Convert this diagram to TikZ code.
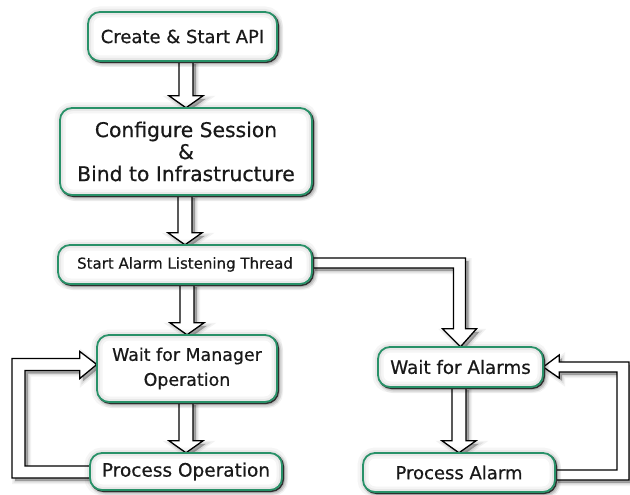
\documentclass[tikz,border=0pt]{standalone}
\usepackage{fontspec}
\setmainfont{DejaVu Sans}
\newfontfamily\boxfont{DejaVu Sans}[FakeBold=0.6]
\usetikzlibrary{calc}
\definecolor{boxgreen}{RGB}{40,145,104}
\definecolor{inktext}{RGB}{25,25,25}
\pgfdeclarelayer{paper}
\pgfdeclarelayer{back}
\pgfsetlayers{paper,back,main}

\tikzset{
  % soft grey shadow cast down and to the right
  softshadow/.style={
    preaction={draw=black, draw opacity=0.05, line width=6pt,
      transform canvas={xshift=3pt,yshift=-3pt}},
    preaction={draw=black, draw opacity=0.08, line width=3pt,
      transform canvas={xshift=3pt,yshift=-3pt}},
    preaction={fill=black, fill opacity=#1,
      transform canvas={xshift=3pt,yshift=-3pt}}},
  softshadow/.default=0.15,
  flowbox/.style={rectangle, rounded corners=12pt, fill=white, text=inktext,
    align=center, inner sep=0pt, softshadow=0.12,
    preaction={draw=black!80, line width=1.6pt,
      transform canvas={xshift=1.2pt,yshift=-1.2pt}},
    postaction={draw=black, draw opacity=0.04, line width=11pt},
    postaction={draw=black, draw opacity=0.05, line width=6pt},
    postaction={draw=boxgreen, line width=1.8pt}},
  fatarrow/.style={draw=black, line width=1.3pt, fill=white, line join=miter,
    softshadow=0.3},
}

% hollow block arrow straight down from one box to the next
\newcommand\fatdown[2]{%
  \path[fatarrow] let \p1=(#1.south), \p2=(#2.north) in
    ({\x2-7pt},\y1) -- ({\x2-7pt},{\y2+12pt}) -- ({\x2-17pt},{\y2+12pt}) -- (\x2,\y2)
    -- ({\x2+17pt},{\y2+12pt}) -- ({\x2+7pt},{\y2+12pt}) -- ({\x2+7pt},\y1) -- cycle;}

\begin{document}
\begin{tikzpicture}[x=1pt,y=-1pt]
  \begin{pgfonlayer}{paper}
    \fill[white] (0,0) rectangle (630,495);
  \end{pgfonlayer}
  \useasboundingbox (0,0) rectangle (630,495);

  \node[flowbox, minimum width=189pt, minimum height=49pt,
        font=\boxfont\fontsize{18}{21}\selectfont] (api) at (182.5,36.5) {Create \& Start API};
  \node[flowbox, minimum width=252pt, minimum height=87pt,
        font=\boxfont\fontsize{20.3}{22}\selectfont] (cfg) at (186,151.5)
        {Configure Session\\\&\\Bind to Infrastructure};
  \node[flowbox, minimum width=254pt, minimum height=39pt,
        font=\boxfont\fontsize{15}{18}\selectfont] (thr) at (185,264.5) {Start Alarm Listening Thread};
  \node[flowbox, minimum width=180pt, minimum height=67pt,
        font=\boxfont\fontsize{17.4}{25}\selectfont] (wmo) at (187,368.5) {Wait for Manager\\Operation};
  \node[flowbox, minimum width=192pt, minimum height=37pt,
        font=\boxfont\fontsize{18.5}{21}\selectfont] (pop) at (186,471.5) {Process Operation};
  \node[flowbox, minimum width=165pt, minimum height=40pt,
        font=\boxfont\fontsize{18.3}{21}\selectfont] (wal) at (460.5,367) {Wait for Alarms};
  \node[flowbox, minimum width=192pt, minimum height=39pt,
        font=\boxfont\fontsize{18}{21}\selectfont] (pal) at (459,472.5) {Process Alarm};

  \begin{pgfonlayer}{back}
    \fatdown{api}{cfg}
    \fatdown{cfg}{thr}
    \fatdown{thr}{wmo}
    \fatdown{wmo}{pop}
    \fatdown{wal}{pal}

    % listening thread branches off to the alarm loop
    \path[fatarrow] let \p1=(thr.east), \p2=(wal.north) in
      (\x1,{\y1+6.5pt}) -- ({\x2+5pt},{\y1+6.5pt}) -- ({\x2+5pt},{\y2+18pt})
      -- ({\x2+16pt},{\y2+18pt}) -- (\x2,\y2) -- ({\x2-18pt},{\y2+18pt})
      -- ({\x2-7pt},{\y2+18pt}) -- ({\x2-7pt},{\y1-3.5pt}) -- (\x1,{\y1-3.5pt}) -- cycle;

    % manager loop back to the wait state
    \path[fatarrow] let \p1=(pop.west), \p2=(wmo.west) in
      (\x1,{\y1+5.5pt}) -- (25pt,{\y1+5.5pt}) -- (25pt,{\y2-2pt})
      -- ({\x2-17pt},{\y2-2pt}) -- ({\x2-17pt},{\y2-10pt}) -- (\x2,{\y2+4pt})
      -- ({\x2-17pt},{\y2+17pt}) -- ({\x2-17pt},{\y2+10pt}) -- (12pt,{\y2+10pt})
      -- (12pt,{\y1-6.5pt}) -- (\x1,{\y1-6.5pt}) -- cycle;

    % alarm loop back to the wait state
    \path[fatarrow] let \p1=(pal.east), \p2=(wal.east) in
      (\x1,{\y1+2.5pt}) -- (617pt,{\y1+2.5pt}) -- (617pt,{\y2-5pt})
      -- ({\x2+16pt},{\y2-5pt}) -- ({\x2+16pt},{\y2-11pt}) -- (\x2,\y2)
      -- ({\x2+16pt},{\y2+12pt}) -- ({\x2+16pt},{\y2+5pt}) -- (629pt,{\y2+5pt})
      -- (629pt,{\y1-7.5pt}) -- (\x1,{\y1-7.5pt}) -- cycle;
  \end{pgfonlayer}
\end{tikzpicture}
\end{document}
